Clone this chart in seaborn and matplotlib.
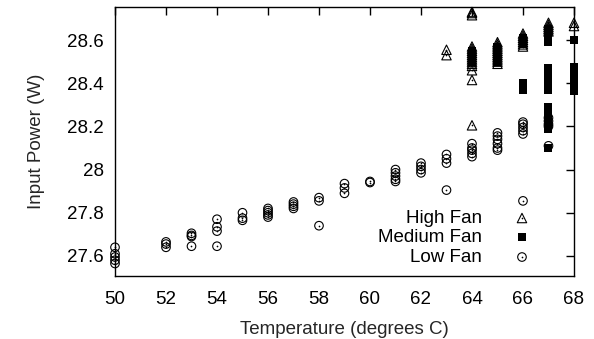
import numpy as np
import pandas as pd
import matplotlib
matplotlib.use("Agg")
import matplotlib.pyplot as plt
from matplotlib.ticker import FuncFormatter
import seaborn as sns

# ---------------- data ----------------
low_temps = [50, 50, 50, 50, 50, 52, 52, 52, 53, 53, 53, 53, 54, 54, 54, 54,
             55, 55, 55, 56, 56, 56, 56, 56, 57, 57, 57, 57, 58, 58, 58,
             59, 59, 59, 60, 60, 61, 61, 61, 61, 61, 62, 62, 62, 62,
             63, 63, 63, 63, 64, 64, 64, 64, 64, 65, 65, 65, 65, 65, 65,
             66, 66, 66, 66, 66, 66, 67, 67, 67, 67, 67]
low_power = [27.64, 27.61, 27.595, 27.58, 27.565, 27.665, 27.655, 27.64,
             27.705, 27.695, 27.69, 27.645, 27.77, 27.735, 27.715, 27.645,
             27.80, 27.775, 27.765, 27.82, 27.81, 27.80, 27.79, 27.78,
             27.85, 27.84, 27.83, 27.82, 27.87, 27.855, 27.74,
             27.935, 27.915, 27.89, 27.945, 27.94,
             28.00, 27.985, 27.97, 27.955, 27.945, 28.03, 28.015, 28.00, 27.985,
             28.07, 28.05, 28.03, 27.905, 28.12, 28.10, 28.09, 28.075, 28.06,
             28.17, 28.155, 28.14, 28.12, 28.10, 28.09,
             28.22, 28.21, 28.195, 28.18, 28.165, 27.855,
             28.24, 28.225, 28.21, 28.20, 28.11]

med_temps = [64, 64, 64, 64, 64, 64,
             65, 65, 65, 65, 65, 65, 65, 65,
             66, 66, 66, 66, 66, 66, 66, 66,
             67, 67, 67, 67, 67, 67, 67, 67, 67, 67, 67, 67, 67, 67, 67, 67, 67,
             68, 68, 68, 68, 68, 68, 68, 68]
med_power = [28.55, 28.54, 28.53, 28.52, 28.51, 28.50,
             28.57, 28.56, 28.55, 28.54, 28.53, 28.52, 28.51, 28.50,
             28.61, 28.60, 28.59, 28.58, 28.40, 28.39, 28.38, 28.37,
             28.65, 28.63, 28.61, 28.59, 28.47, 28.45, 28.43, 28.41, 28.39, 28.37,
             28.29, 28.27, 28.25, 28.23, 28.21, 28.19, 28.10,
             28.60, 28.475, 28.46, 28.44, 28.42, 28.40, 28.38, 28.365]

high_temps = [63, 63,
              64, 64, 64, 64, 64, 64, 64, 64, 64, 64, 64, 64, 64, 64, 64, 64,
              65, 65, 65, 65, 65, 65, 65, 65, 65, 65, 65,
              66, 66, 66, 66, 66, 66, 66,
              67, 67, 67, 67, 67,
              68, 68]
high_power = [28.555, 28.53,
              28.73, 28.725, 28.715, 28.57, 28.56, 28.55, 28.54, 28.53, 28.52,
              28.51, 28.50, 28.49, 28.48, 28.46, 28.415, 28.205,
              28.59, 28.58, 28.57, 28.56, 28.55, 28.54, 28.53, 28.52, 28.51, 28.50, 28.49,
              28.63, 28.62, 28.61, 28.60, 28.59, 28.58, 28.57,
              28.68, 28.67, 28.66, 28.65, 28.64,
              28.68, 28.665]

series_labels = ["High Fan", "Medium Fan", "Low Fan"]
x_ticks = [50, 52, 54, 56, 58, 60, 62, 64, 66, 68]
y_ticks = [27.6, 27.8, 28.0, 28.2, 28.4, 28.6]

# ---------------- style ----------------
sns.set_theme(style="white")
plt.rcParams["font.family"] = ["Liberation Sans", "DejaVu Sans"]
plt.rcParams["axes.edgecolor"] = "black"
plt.rcParams["axes.linewidth"] = 1.0

fig = plt.figure(figsize=(5.94, 3.39), dpi=100)
ax = fig.add_axes([0.1936, 0.1858, 0.7727, 0.7935])

low_df = pd.DataFrame({"t": low_temps, "p": low_power})
med_df = pd.DataFrame({"t": med_temps, "p": med_power})
high_df = pd.DataFrame({"t": high_temps, "p": high_power})

open_kw = dict(facecolor="none", edgecolor="black", linewidth=0.8, clip_on=False, legend=False)
dot_kw = dict(color="black", linewidth=0, s=1.5, clip_on=False, legend=False)

# Low fan: open circles with centre dot
sns.scatterplot(data=low_df, x="t", y="p", marker="o", s=38, ax=ax, **open_kw)
sns.scatterplot(data=low_df, x="t", y="p", marker="o", ax=ax, **dot_kw)
# Medium fan: filled squares
sns.scatterplot(data=med_df, x="t", y="p", marker="s", s=40, color="black",
                linewidth=0, clip_on=False, legend=False, ax=ax)
# High fan: open triangles with centre dot
sns.scatterplot(data=high_df, x="t", y="p", marker="^", s=46, ax=ax, **open_kw)
sns.scatterplot(data=high_df, x="t", y="p", marker="o", ax=ax, **dot_kw)

ax.set_xlim(50, 68)
ax.set_ylim(27.507, 28.753)
ax.set_xticks(x_ticks)
ax.set_yticks(y_ticks)
ax.yaxis.set_major_formatter(FuncFormatter(lambda v, p: f"{v:g}"))
ax.tick_params(direction="in", length=6, width=1.0, top=True, right=True,
               labelsize=13.5, colors="black")
ax.tick_params(axis="x", pad=11)
ax.tick_params(axis="y", pad=8)
for s in ax.spines.values():
    s.set_visible(True)
    s.set_color("black")
    s.set_linewidth(1.0)

ax.set_xlabel("Temperature (degrees C)", fontsize=13.5, labelpad=9)
ax.set_ylabel("Input Power (W)", fontsize=13.5, labelpad=16)

# ---------------- key (gnuplot style: text right-aligned, sample to the right) ----------------
tx, mx = 0.7996, 0.8867
rows = [0.2156, 0.145, 0.0706]
key_markers = [("^", "none"), ("s", "black"), ("o", "none")]
for lab, yy, (mk, fc) in zip(series_labels, rows, key_markers):
    ax.text(tx, yy, lab, transform=ax.transAxes, ha="right", va="center",
            fontsize=13.5, color="black")
    if fc == "none":
        ax.scatter([mx], [yy], transform=ax.transAxes, marker=mk,
                   s=46 if mk == "^" else 38, facecolor="none",
                   edgecolor="black", linewidth=0.8, clip_on=False)
        ax.scatter([mx], [yy], transform=ax.transAxes, marker="o", s=1.5,
                   color="black", linewidth=0, clip_on=False)
    else:
        ax.scatter([mx], [yy], transform=ax.transAxes, marker=mk, s=40,
                   color="black", linewidth=0, clip_on=False)

fig.savefig("out.png", dpi=100, facecolor="white")
